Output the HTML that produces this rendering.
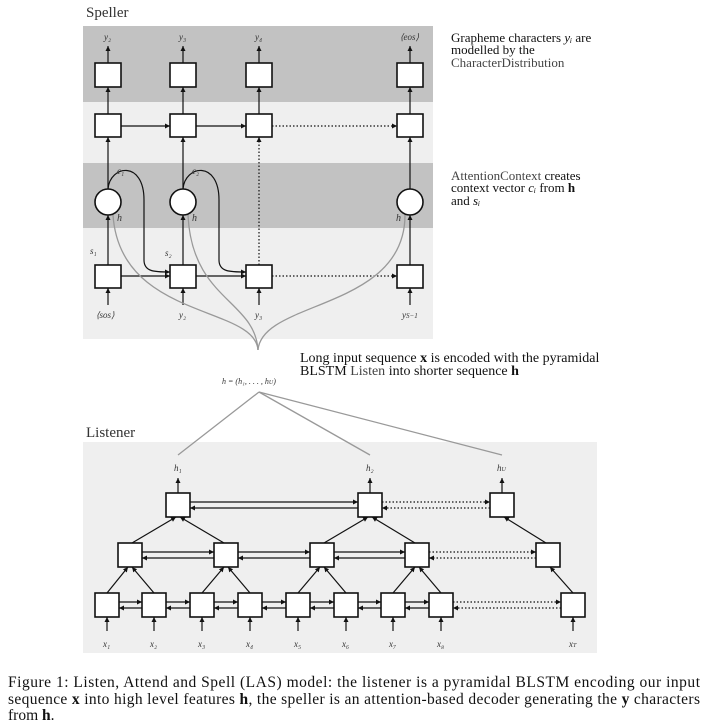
<!DOCTYPE html>
<html><head><meta charset="utf-8"><style>
body{margin:0;background:#fff;width:708px;height:728px;overflow:hidden}
svg{display:block}
.t{font-family:"Liberation Serif",serif}
.i{font-style:italic;font-size:9px;fill:#333}
</style></head><body>
<svg width="708" height="728" viewBox="0 0 708 728" xmlns="http://www.w3.org/2000/svg">
<defs>
<marker id="a" markerWidth="6" markerHeight="6" refX="5" refY="3" orient="auto" markerUnits="userSpaceOnUse"><path d="M0,0.5 L5,3 L0,5.5z" fill="#111"/></marker>
</defs>
<g class="t">
<text x="86" y="17" font-size="15" fill="#333">Speller</text>
<rect x="83" y="26" width="350" height="76" fill="#c2c2c2"/>
<rect x="83" y="102" width="350" height="61" fill="#efefef"/>
<rect x="83" y="163" width="350" height="65" fill="#c2c2c2"/>
<rect x="83" y="228" width="350" height="111" fill="#efefef"/>

<g stroke="#111" stroke-width="1.2" fill="none" marker-end="url(#a)">
<line x1="108" y1="63" x2="108" y2="46"/><line x1="183" y1="63" x2="183" y2="46"/><line x1="259" y1="63" x2="259" y2="46"/><line x1="410" y1="63" x2="410" y2="46"/>
<line x1="108" y1="114" x2="108" y2="87"/><line x1="183" y1="114" x2="183" y2="87"/><line x1="259" y1="114" x2="259" y2="87"/><line x1="410" y1="114" x2="410" y2="87"/>
<line x1="108" y1="189" x2="108" y2="137"/><line x1="183" y1="189" x2="183" y2="137"/><line x1="410" y1="189" x2="410" y2="137"/>
<line x1="259" y1="265" x2="259" y2="137" stroke-dasharray="1.5,2"/>
<line x1="108" y1="265" x2="108" y2="215"/><line x1="183" y1="265" x2="183" y2="215"/><line x1="410" y1="265" x2="410" y2="215"/>
<line x1="108" y1="305" x2="108" y2="288"/><line x1="183" y1="305" x2="183" y2="288"/><line x1="259" y1="305" x2="259" y2="288"/><line x1="410" y1="305" x2="410" y2="288"/>
<line x1="121" y1="126" x2="170" y2="126"/><line x1="196" y1="126" x2="246" y2="126"/><line x1="272" y1="126" x2="397" y2="126" stroke-dasharray="1.5,2"/>
<line x1="121" y1="276" x2="170" y2="276"/><line x1="196" y1="276" x2="246" y2="276"/><line x1="272" y1="276" x2="397" y2="276" stroke-dasharray="1.5,2"/>
<path d="M108,189 C110,165 144,160 144,200 L144,260 C144,272 155,272 170,272"/>
<path d="M183,189 C185,165 219,160 219,200 L219,260 C219,272 230,272 246,272"/>
</g>
<g stroke="#999" stroke-width="1.3" fill="none">
<path d="M258,350 C255,305 120,320 113,215"/>
<path d="M258,350 C255,300 192,300 188,215"/>
<path d="M258,350 C262,300 405,310 405,215"/>
</g>
<g fill="#fff" stroke="#111" stroke-width="1.6">
<rect x="95" y="63" width="26" height="24"/><rect x="170" y="63" width="26" height="24"/><rect x="246" y="63" width="26" height="24"/><rect x="397" y="63" width="26" height="24"/>
<rect x="95" y="114" width="26" height="23"/><rect x="170" y="114" width="26" height="23"/><rect x="246" y="114" width="26" height="23"/><rect x="397" y="114" width="26" height="23"/>
<circle cx="108" cy="202" r="13"/><circle cx="183" cy="202" r="13"/><circle cx="410" cy="202" r="13"/>
<rect x="95" y="265" width="26" height="23"/><rect x="170" y="265" width="26" height="23"/><rect x="246" y="265" width="26" height="23"/><rect x="397" y="265" width="26" height="23"/>
</g>
<g class="i">
<text x="104" y="40">y₂</text><text x="179" y="40">y₃</text><text x="255" y="40">y₄</text><text x="400" y="40">⟨eos⟩</text>
<text x="117" y="174">c₁</text><text x="192" y="174">c₂</text>
<text x="117" y="221" font-size="10">h</text><text x="192" y="221" font-size="10">h</text><text x="396" y="221" font-size="10">h</text>
<text x="90" y="254">s₁</text><text x="165" y="256">s₂</text>
<text x="96" y="318">⟨sos⟩</text><text x="179" y="318">y₂</text><text x="255" y="318">y₃</text><text x="402" y="318">y<tspan font-size="7">S−1</tspan></text>
<text x="222" y="384" font-size="8">h = (h₁, . . . , h<tspan font-size="6">U</tspan>)</text>
</g>
<g font-size="13" fill="#111">
<text x="451" y="42">Grapheme characters <tspan font-style="italic">yᵢ</tspan> are</text>
<text x="451" y="54">modelled by the</text>
<text x="451" y="67" fill="#444">CharacterDistribution</text>
<text x="451" y="180" fill="#444">AttentionContext <tspan fill="#111">creates</tspan></text>
<text x="451" y="192">context vector <tspan font-style="italic">cᵢ</tspan> from <tspan font-weight="bold">h</tspan></text>
<text x="451" y="205">and <tspan font-style="italic">sᵢ</tspan></text>
<text x="300" y="362" font-size="14">Long input sequence <tspan font-weight="bold">x</tspan> is encoded with the pyramidal</text>
<text x="300" y="375" font-size="14">BLSTM <tspan fill="#444">Listen</tspan> into shorter sequence <tspan font-weight="bold">h</tspan></text>
</g>

<text x="86" y="437" font-size="15" fill="#333">Listener</text>
<rect x="83" y="442" width="514" height="211" fill="#efefef"/>
<g stroke="#999" stroke-width="1.3" fill="none">
<line x1="259" y1="392" x2="178" y2="455"/><line x1="259" y1="392" x2="370" y2="455"/><line x1="259" y1="392" x2="502" y2="455"/>
</g>
<g stroke="#111" stroke-width="1.2" fill="none" marker-end="url(#a)">
<line x1="178" y1="493" x2="178" y2="478"/><line x1="370" y1="493" x2="370" y2="478"/><line x1="502" y1="493" x2="502" y2="478"/>
<line x1="190" y1="502" x2="358" y2="502"/><line x1="358" y1="508" x2="190" y2="508"/>
<line x1="382" y1="502" x2="490" y2="502" stroke-dasharray="1.5,2"/><line x1="490" y1="508" x2="382" y2="508" stroke-dasharray="1.5,2"/>
<line x1="142" y1="552" x2="214" y2="552"/><line x1="214" y1="558" x2="142" y2="558"/>
<line x1="238" y1="552" x2="310" y2="552"/><line x1="310" y1="558" x2="238" y2="558"/>
<line x1="334" y1="552" x2="405" y2="552"/><line x1="405" y1="558" x2="334" y2="558"/>
<line x1="429" y1="552" x2="536" y2="552" stroke-dasharray="1.5,2"/><line x1="536" y1="558" x2="429" y2="558" stroke-dasharray="1.5,2"/>
<line x1="119" y1="602" x2="142" y2="602"/><line x1="142" y1="608" x2="119" y2="608"/>
<line x1="166" y1="602" x2="190" y2="602"/><line x1="190" y1="608" x2="166" y2="608"/>
<line x1="214" y1="602" x2="238" y2="602"/><line x1="238" y1="608" x2="214" y2="608"/>
<line x1="262" y1="602" x2="286" y2="602"/><line x1="286" y1="608" x2="262" y2="608"/>
<line x1="310" y1="602" x2="334" y2="602"/><line x1="334" y1="608" x2="310" y2="608"/>
<line x1="358" y1="602" x2="381" y2="602"/><line x1="381" y1="608" x2="358" y2="608"/>
<line x1="405" y1="602" x2="429" y2="602"/><line x1="429" y1="608" x2="405" y2="608"/>
<line x1="453" y1="602" x2="561" y2="602" stroke-dasharray="1.5,2"/><line x1="561" y1="608" x2="453" y2="608" stroke-dasharray="1.5,2"/>
<line x1="132" y1="543" x2="176" y2="517"/><line x1="224" y1="543" x2="180" y2="517"/>
<line x1="324" y1="543" x2="368" y2="517"/><line x1="415" y1="543" x2="372" y2="517"/>
<line x1="546" y1="543" x2="504" y2="517"/>
<line x1="107" y1="593" x2="128" y2="567"/><line x1="154" y1="593" x2="132" y2="567"/>
<line x1="202" y1="593" x2="224" y2="567"/><line x1="250" y1="593" x2="228" y2="567"/>
<line x1="298" y1="593" x2="320" y2="567"/><line x1="346" y1="593" x2="324" y2="567"/>
<line x1="393" y1="593" x2="415" y2="567"/><line x1="441" y1="593" x2="419" y2="567"/>
<line x1="573" y1="593" x2="550" y2="567"/>
<line x1="107" y1="631" x2="107" y2="617"/><line x1="154" y1="631" x2="154" y2="617"/><line x1="202" y1="631" x2="202" y2="617"/><line x1="250" y1="631" x2="250" y2="617"/><line x1="298" y1="631" x2="298" y2="617"/><line x1="346" y1="631" x2="346" y2="617"/><line x1="393" y1="631" x2="393" y2="617"/><line x1="441" y1="631" x2="441" y2="617"/><line x1="573" y1="631" x2="573" y2="617"/>
</g>
<g fill="#fff" stroke="#111" stroke-width="1.6">
<rect x="166" y="493" width="24" height="24"/><rect x="358" y="493" width="24" height="24"/><rect x="490" y="493" width="24" height="24"/>
<rect x="118" y="543" width="24" height="24"/><rect x="214" y="543" width="24" height="24"/><rect x="310" y="543" width="24" height="24"/><rect x="405" y="543" width="24" height="24"/><rect x="536" y="543" width="24" height="24"/>
<rect x="95" y="593" width="24" height="24"/><rect x="142" y="593" width="24" height="24"/><rect x="190" y="593" width="24" height="24"/><rect x="238" y="593" width="24" height="24"/><rect x="286" y="593" width="24" height="24"/><rect x="334" y="593" width="24" height="24"/><rect x="381" y="593" width="24" height="24"/><rect x="429" y="593" width="24" height="24"/><rect x="561" y="593" width="24" height="24"/>
</g>
<g class="i">
<text x="174" y="471">h₁</text><text x="366" y="471">h₂</text><text x="497" y="471">h<tspan font-size="6">U</tspan></text>
<text x="103" y="647">x₁</text><text x="150" y="647">x₂</text><text x="198" y="647">x₃</text><text x="246" y="647">x₄</text><text x="294" y="647">x₅</text><text x="342" y="647">x₆</text><text x="389" y="647">x₇</text><text x="437" y="647">x₈</text><text x="569" y="647">x<tspan font-size="6">T</tspan></text>
</g>
<g font-size="15.5" fill="#111">
<text x="8" y="687" textLength="692" lengthAdjust="spacing">Figure 1:  Listen, Attend and Spell (LAS) model:  the listener is a pyramidal BLSTM encoding our input</text>
<text x="8" y="704" textLength="692" lengthAdjust="spacing">sequence <tspan font-weight="bold">x</tspan> into high level features <tspan font-weight="bold">h</tspan>, the speller is an attention-based decoder generating the <tspan font-weight="bold">y</tspan> characters</text>
<text x="8" y="720">from <tspan font-weight="bold">h</tspan>.</text>
</g>
</g>
</svg>
</body></html>
